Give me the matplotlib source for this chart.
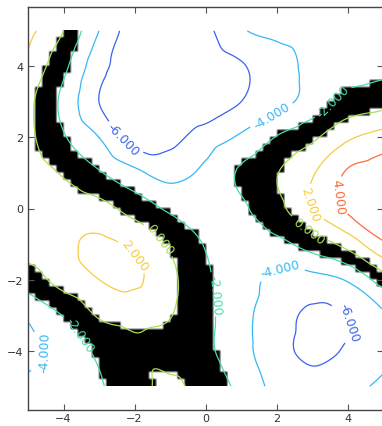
import numpy as np
import matplotlib
matplotlib.use("Agg")
import matplotlib.pyplot as plt
import matplotlib.tri as mtri

# field sampled on the integer grid, x and y from -5 to 5
xs = np.arange(-5, 6)
ys = np.arange(-5, 6)
# one row per y value, bottom (y=-5) to top (y=5)
z_rows = [
    [-3.6, -3.0, -2.2, -0.8, 0.4, -0.9, -2.5, -4.6, -5.3, -4.6, -3.6],   # y=-5
    [-4.5, -3.4, -1.6, -0.4, -0.8, -1.6, -3.3, -5.3, -6.4, -5.8, -4.6],  # y=-4
    [-3.7, -1.9, 0.2, 0.6, 0.1, -1.5, -3.4, -5.0, -6.4, -5.9, -4.3],     # y=-3
    [-1.0, 0.8, 2.0, 2.3, 0.5, -1.7, -3.1, -4.5, -4.6, -3.8, -1.0],      # y=-2
    [0.8, 1.6, 2.3, 1.6, -0.3, -2.1, -3.2, -2.5, -1.1, 0.7, 3.7],        # y=-1
    [1.1, 1.1, 0.7, -0.8, -2.3, -2.9, -2.3, -0.6, 2.0, 4.3, 5.3],        # y=0
    [1.0, -0.2, -1.8, -3.5, -4.7, -3.6, -1.7, -0.1, 1.8, 4.2, 5.0],      # y=1
    [0.5, -1.8, -4.0, -6.8, -6.6, -5.0, -3.7, -1.9, -0.4, 1.7, 2.8],     # y=2
    [0.5, -2.5, -6.0, -7.5, -8.0, -7.5, -6.0, -4.7, -3.2, -1.3, -0.7],   # y=3
    [1.5, -1.5, -5.3, -7.0, -7.7, -7.3, -6.2, -4.8, -3.5, -2.9, -2.5],   # y=4
    [2.6, 0.0, -4.0, -7.0, -7.6, -6.5, -4.2, -3.6, -3.3, -3.1, -3.0],    # y=5
]
levels = [-6, -4, -2, 0, 2, 4]
band = (-2, 0)  # values shaded black

line_colors = ["#3a62f0", "#35b8f5", "#45e0a5", "#a8e055", "#f5cc40", "#ff6a3a"]

# label anchor points, one per drawn label
label_xy = [(-2.3, 1.95), (4.0, -3.2), (1.9, 2.55), (2.1, -1.8), (-4.3, -4.0),
            (3.6, 3.0), (0.35, -2.4), (-3.55, -3.55), (-1.3, -0.87), (3.0, -0.5),
            (-2.0, -1.33), (3.2, 0.2), (3.8, 0.35)]

X, Y = np.meshgrid(xs, ys)
Z = np.array(z_rows, dtype=float)
tri = mtri.Triangulation(X.ravel(), Y.ravel())
interp = mtri.CubicTriInterpolator(tri, Z.ravel(), kind="geom")

# coarse cells for the shaded band, fine mesh for the lines
cell = np.linspace(-4.9, 4.9, 50)
CX, CY = np.meshgrid(cell, cell)
CZ = np.asarray(interp(CX, CY))
mask = ((CZ > band[0]) & (CZ < band[1])).astype(float)
# blow each cell up so the bilinear resample only softens the cell edges
mask = np.repeat(np.repeat(mask, 3, axis=0), 3, axis=1)

fine = np.linspace(-5, 5, 241)
FX, FY = np.meshgrid(fine, fine)
FZ = interp(FX, FY)

fig = plt.figure(figsize=(3.82, 4.27), dpi=100)
ax = fig.add_axes([28 / 382, 16 / 427, 355 / 382, 403 / 427])

ax.imshow(mask, cmap="gray_r", vmin=0, vmax=1, origin="lower",
          extent=[-5, 5, -5, 5], interpolation="bilinear", aspect="auto")
cs = ax.contour(FX, FY, FZ, levels=levels, colors=line_colors, linewidths=0.9)
ax.clabel(cs, fmt="%1.3f", fontsize=9, inline=True, manual=label_xy)

ax.set_xlim(-5, 5)
ax.set_ylim(-5.67, 5.67)
ax.set_xticks([-4, -2, 0, 2, 4])
ax.set_yticks([-4, -2, 0, 2, 4])
ax.tick_params(direction="in", top=True, right=True, length=4, labelsize=8,
               color="#555555", labelcolor="#333333")
ax.tick_params(axis="x", pad=2)
for s in ax.spines.values():
    s.set_color("#444444")
    s.set_linewidth(1.0)

fig.savefig("out.png", dpi=100)
